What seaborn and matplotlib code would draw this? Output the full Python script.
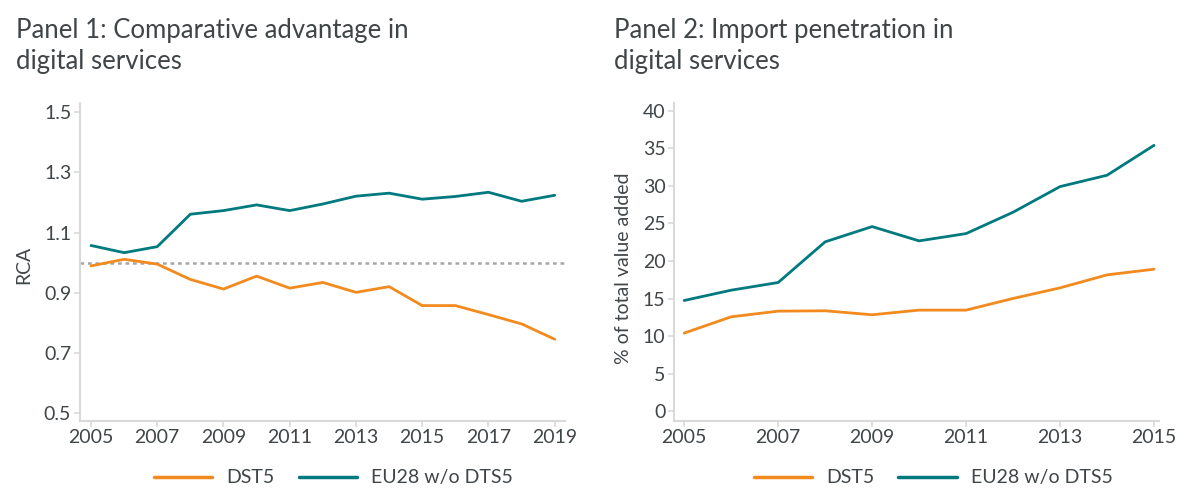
import pandas as pd
import matplotlib
matplotlib.use('Agg')
import matplotlib.pyplot as plt
import seaborn as sns

# panel 1: revealed comparative advantage
years_rca = list(range(2005, 2020))
rca_dst5 = [0.989, 1.011, 0.995, 0.944, 0.912, 0.955, 0.915, 0.934, 0.901, 0.920,
            0.857, 0.857, 0.827, 0.796, 0.745]
rca_eu28 = [1.057, 1.033, 1.053, 1.161, 1.173, 1.192, 1.173, 1.195, 1.221, 1.231,
            1.211, 1.220, 1.234, 1.204, 1.224]
rca_ref = 1.0

# panel 2: import penetration
years_imp = list(range(2005, 2016))
imp_dst5 = [10.41, 12.58, 13.33, 13.38, 12.85, 13.47, 13.47, 15.02, 16.43, 18.16, 18.91]
imp_eu28 = [14.75, 16.12, 17.14, 22.55, 24.58, 22.68, 23.65, 26.49, 29.90, 31.41, 35.39]

series_names = ['DST5', 'EU28 w/o DTS5']
colors = {'DST5': '#F28A1E', 'EU28 w/o DTS5': '#00797F'}

rca_ticks = [0.5, 0.7, 0.9, 1.1, 1.3, 1.5]
rca_xticks = list(range(2005, 2020, 2))
imp_ticks = list(range(0, 45, 5))
imp_xticks = list(range(2005, 2016, 2))

sns.set_theme(style='white')
plt.rcParams['font.family'] = ['Lato', 'DejaVu Sans']
txt = '#404548'
grid_c = '#D9D9D9'

df1 = pd.DataFrame({'year': years_rca * 2,
                    'value': rca_dst5 + rca_eu28,
                    'series': [series_names[0]] * len(years_rca) + [series_names[1]] * len(years_rca)})
df2 = pd.DataFrame({'year': years_imp * 2,
                    'value': imp_dst5 + imp_eu28,
                    'series': [series_names[0]] * len(years_imp) + [series_names[1]] * len(years_imp)})

fig = plt.figure(figsize=(11.77, 4.88), dpi=100)
ax1 = fig.add_axes([80/1177, 67.3/488, 485/1177, 317.7/488])
ax2 = fig.add_axes([674.3/1177, 67.3/488, 484.7/1177, 317.7/488])

ax1.axhline(rca_ref, color='#A6A6A6', ls=(0, (1.5, 1.5)), lw=1.8, zorder=1)
sns.lineplot(data=df1, x='year', y='value', hue='series', palette=colors,
             hue_order=series_names, lw=2, ax=ax1, zorder=3)
sns.lineplot(data=df2, x='year', y='value', hue='series', palette=colors,
             hue_order=series_names, lw=2, ax=ax2, zorder=3)

ax1.set_xlim(2004.668, 2019.31)
ax1.set_ylim(0.474, 1.531)
ax1.set_yticks(rca_ticks)
ax1.set_yticklabels([f'{t:.1f}' for t in rca_ticks])
ax1.set_xticks(rca_xticks)
ax1.set_ylabel('RCA', color=txt, fontsize=14)
ax1.yaxis.set_label_coords(-0.099, 0.49)

ax2.set_xlim(2004.79, 2015.106)
ax2.set_ylim(-1.24, 41.02)
ax2.set_yticks(imp_ticks)
ax2.set_xticks(imp_xticks)
ax2.set_ylabel('% of total value added', color=txt, fontsize=14)
ax2.yaxis.set_label_coords(-0.087, 0.479)

for ax in (ax1, ax2):
    ax.set_xlabel('')
    for s in ('top', 'right'):
        ax.spines[s].set_visible(False)
    for s in ('left', 'bottom'):
        ax.spines[s].set_color(grid_c)
        ax.spines[s].set_linewidth(1.5)
    ax.tick_params(axis='both', which='major', direction='out', length=4.3, width=1.2,
                   color=grid_c, labelcolor=txt, labelsize=14, pad=2, bottom=True, left=True)
    leg = ax.legend(loc='center', ncol=2, frameon=False, fontsize=14,
                    handlelength=3.0, columnspacing=1.25, handletextpad=0.72)
    for t in leg.get_texts():
        t.set_color(txt)
    for h in leg.get_lines():
        h.set_linewidth(2.5)

ax1.get_legend().set_bbox_to_anchor((0.522, -0.180))
ax2.get_legend().set_bbox_to_anchor((0.534, -0.180))

title_kw = dict(ha='left', va='baseline', fontsize=18.5, color=txt)
fig.text(16/1177, 1 - 38/488, 'Panel 1: Comparative advantage in', **title_kw)
fig.text(16/1177, 1 - 69/488, 'digital services', **title_kw)
fig.text(614/1177, 1 - 38/488, 'Panel 2: Import penetration in', **title_kw)
fig.text(614/1177, 1 - 69/488, 'digital services', **title_kw)

fig.savefig('out.png', dpi=100, facecolor='white')
